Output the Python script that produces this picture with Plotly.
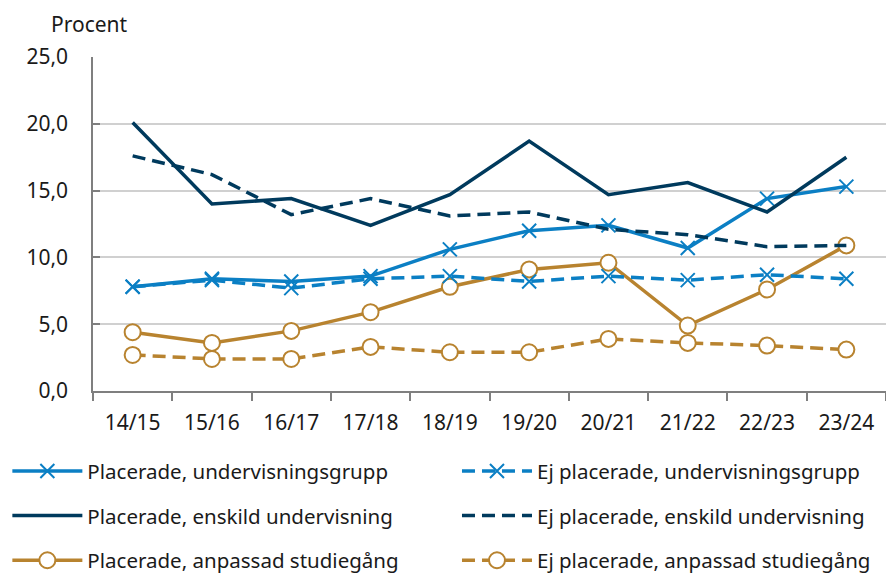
import plotly.graph_objects as go

categories = ["14/15", "15/16", "16/17", "17/18", "18/19", "19/20", "20/21", "21/22", "22/23", "23/24"]

plac_undervisningsgrupp = [7.8, 8.4, 8.2, 8.6, 10.6, 12.0, 12.4, 10.7, 14.4, 15.3]
ej_undervisningsgrupp = [7.8, 8.3, 7.7, 8.4, 8.6, 8.2, 8.6, 8.3, 8.7, 8.4]
plac_enskild = [20.1, 14.0, 14.4, 12.4, 14.7, 18.7, 14.7, 15.6, 13.4, 17.5]
ej_enskild = [17.6, 16.2, 13.2, 14.4, 13.1, 13.4, 12.1, 11.7, 10.8, 10.9]
plac_anpassad = [4.4, 3.6, 4.5, 5.9, 7.8, 9.1, 9.6, 4.9, 7.6, 10.9]
ej_anpassad = [2.7, 2.4, 2.4, 3.3, 2.9, 2.9, 3.9, 3.6, 3.4, 3.1]

y_ticks = [0, 5, 10, 15, 20, 25]
y_tick_labels = ["0,0", "5,0", "10,0", "15,0", "20,0", "25,0"]

LIGHT = "#0b7fc4"
NAVY = "#003a5d"
GOLD = "#b8832f"
DASH = "13px,7px"

series = [
    ("Placerade, undervisningsgrupp", plac_undervisningsgrupp, LIGHT, "solid", "x", "legend"),
    ("Placerade, enskild undervisning", plac_enskild, NAVY, "solid", None, "legend"),
    ("Placerade, anpassad studiegång", plac_anpassad, GOLD, "solid", "o", "legend"),
    ("Ej placerade, undervisningsgrupp", ej_undervisningsgrupp, LIGHT, DASH, "x", "legend2"),
    ("Ej placerade, enskild undervisning", ej_enskild, NAVY, DASH, None, "legend2"),
    ("Ej placerade, anpassad studiegång", ej_anpassad, GOLD, DASH, "o", "legend2"),
]

fig = go.Figure()
for i, (name, vals, color, dash, mk, leg) in enumerate(series):
    if mk == "x":
        marker = dict(symbol="x-thin", size=14, color=color, line=dict(color=color, width=2))
        mode = "lines+markers"
    elif mk == "o":
        marker = dict(symbol="circle", size=16, color="white", line=dict(color=color, width=2))
        mode = "lines+markers"
    else:
        marker = None
        mode = "lines"
    fig.add_trace(go.Scatter(
        x=categories, y=vals, name=name, mode=mode,
        line=dict(color=color, width=3.5, dash=dash),
        marker=marker, legend=leg, legendgroup=f"g{i}",
        hoverinfo="skip",
    ))

leg_common = dict(
    orientation="v", yanchor="top", xanchor="left",
    font=dict(family="Noto Sans", size=20.5, color="#1a1a1a"),
    itemwidth=70, tracegroupgap=15, bgcolor="rgba(0,0,0,0)",
    traceorder="grouped",
)

fig.update_layout(
    width=886, height=574,
    margin=dict(l=93, r=0, t=57, b=183, autoexpand=False),
    paper_bgcolor="white", plot_bgcolor="white",
    font=dict(family="Noto Sans", size=21, color="#1a1a1a"),
    showlegend=True,
    legend=dict(x=-0.108, y=-0.18, **leg_common),
    legend2=dict(x=0.459, y=-0.18, **leg_common),
    xaxis=dict(
        type="category", range=[-0.5, 9.5],
        showline=True, linecolor="#7f7f7f", linewidth=1.5,
        ticks="outside", ticklen=8, tickcolor="#7f7f7f", tickwidth=1.5,
        tickson="boundaries", showgrid=False,
        tickfont=dict(size=21, color="#1a1a1a"), ticklabelstandoff=12,
    ),
    yaxis=dict(
        range=[0, 25], tickvals=y_ticks, ticktext=y_tick_labels,
        showline=True, linecolor="#7f7f7f", linewidth=1.5,
        ticks="inside", ticklen=7, tickcolor="#7f7f7f", tickwidth=1.5,
        showgrid=True, gridcolor="#d0d0d0", gridwidth=1.5,
        zeroline=False,
        tickfont=dict(size=21, color="#1a1a1a"), ticklabelstandoff=19,
    ),
    annotations=[dict(
        text="Procent", xref="paper", yref="paper", x=-0.004, y=1.0,
        xanchor="center", yanchor="middle", yshift=33, showarrow=False,
        font=dict(size=21, color="#1a1a1a"),
    )],
)

fig.write_html(
    "out.html",
    config={"displayModeBar": False},
    post_script="document.body.style.margin='0';document.body.style.padding='0';",
)
